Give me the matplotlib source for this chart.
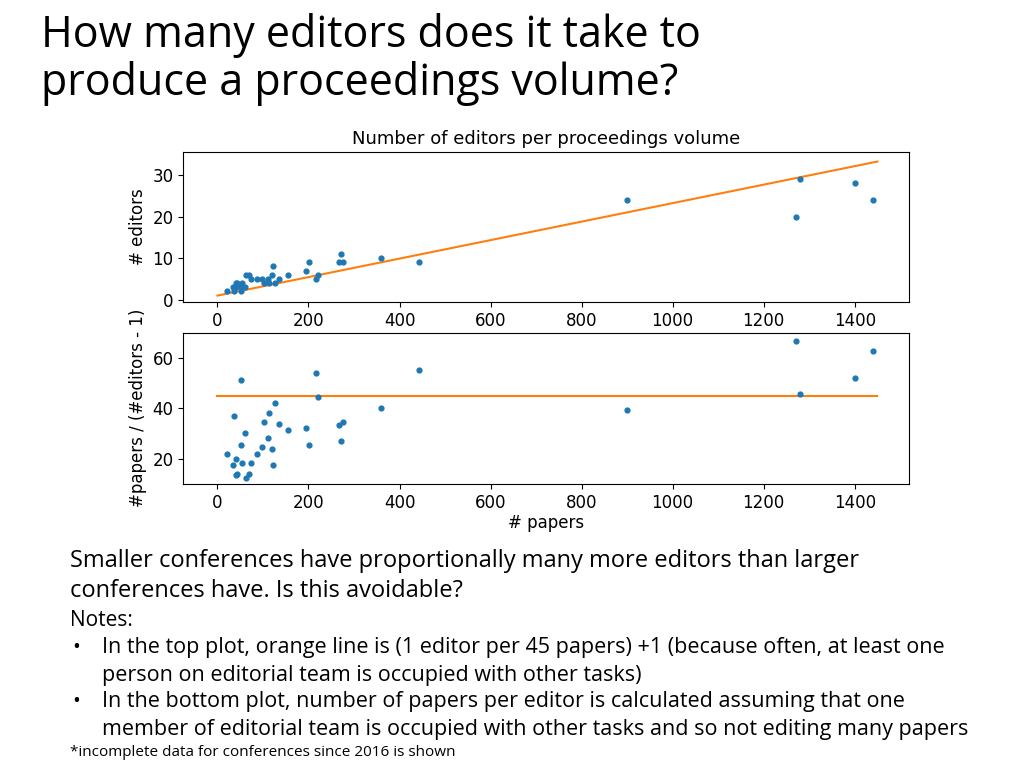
import matplotlib
matplotlib.use("Agg")
import matplotlib.pyplot as plt
import numpy as np

papers = [22, 35, 37, 40, 40, 42, 51, 51, 55, 60, 62, 70, 73, 87, 98, 103, 112, 114, 119, 123, 126, 135, 156, 194, 202, 216, 222, 267, 271, 276, 359, 442, 900, 1270, 1280, 1400, 1440]
editors = [2, 3, 2, 3, 4, 4, 2, 3, 4, 3, 6, 6, 5, 5, 5, 4, 5, 4, 6, 8, 4, 5, 6, 7, 9, 5, 6, 9, 11, 9, 10, 9, 24, 20, 29, 28, 24]

papers = np.array(papers, float)
editors = np.array(editors, float)
ratio = papers / (editors - 1)
line_x = np.array([0, 1450])

W, H = 1024, 768
fig = plt.figure(figsize=(10.24, 7.68), dpi=100)
f = "Open Sans"

def t(x, y, s, size, **kw):
    fig.text(x / W, 1 - y / H, s, fontsize=size, family=f, va="center", **kw)

t(41, 36, "How many editors does it take to", 31)
t(41, 84, "produce a proceedings volume?", 31)

blue, orange = "#1f77b4", "#ff7f0e"
ax1 = fig.add_axes([0.179, 0.607, 0.709, 0.195])
ax1.scatter(papers, editors, s=12, color=blue, zorder=3)
ax1.plot(line_x, line_x / 45 + 1, color=orange)
ax1.set_xlim(-75, 1520)
ax1.set_ylim(-0.5, 35.5)
ax1.set_yticks([0, 10, 20, 30])
ax1.set_xticks(range(0, 1401, 200))
ax1.set_ylabel("# editors", fontsize=12)
ax1.set_xlabel("# papers", fontsize=12)
ax1.set_title("Number of editors per proceedings volume", fontsize=13)
ax1.tick_params(labelsize=12)

ax2 = fig.add_axes([0.179, 0.370, 0.709, 0.197])
ax2.set_zorder(2)
ax2.scatter(papers, ratio, s=12, color=blue, zorder=3)
ax2.plot(line_x, [45, 45], color=orange)
ax2.set_xlim(-75, 1520)
ax2.set_ylim(10, 70)
ax2.set_yticks([20, 40, 60])
ax2.set_xticks(range(0, 1401, 200))
ax2.set_ylabel("#papers / (#editors - 1)", fontsize=12)
ax2.set_xlabel("# papers", fontsize=12, labelpad=2)
ax2.tick_params(labelsize=12)

t(70, 561, "Smaller conferences have proportionally many more editors than larger", 17)
t(70, 591, "conferences have. Is this avoidable?", 17)
t(70, 621, "Notes:", 15)
lines = [(648, "In the top plot, orange line is (1 editor per 45 papers) +1 (because often, at least one", True),
         (675, "person on editorial team is occupied with other tasks)", False),
         (702, "In the bottom plot, number of papers per editor is calculated assuming that one", True),
         (729, "member of editorial team is occupied with other tasks and so not editing many papers", False)]
for y, s, b in lines:
    if b:
        t(72, y, "•", 15)
    t(102, y, s, 15.5)
t(70, 752, "*incomplete data for conferences since 2016 is shown", 11)

fig.savefig("out.png", dpi=100)
